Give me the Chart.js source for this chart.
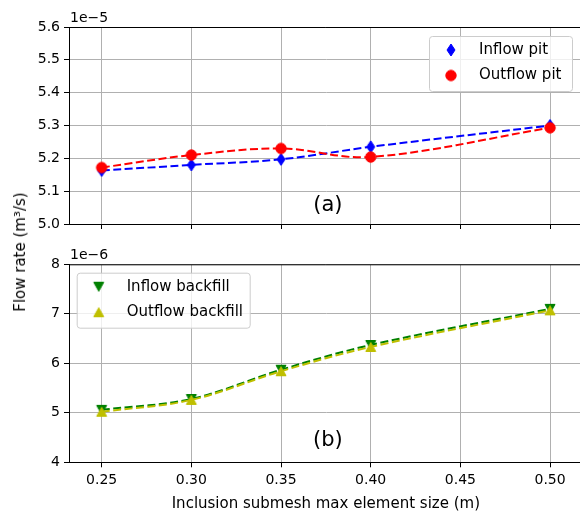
<!DOCTYPE html>
<html>
<head>
<meta charset="utf-8">
<script src="https://cdn.jsdelivr.net/npm/chart.js@4"></script>
<style>
  html, body { margin: 0; padding: 0; background: #fff; overflow: hidden; }
  #wrap { position: relative; width: 580px; height: 516px; overflow: hidden; }
  #wrap canvas { position: absolute; left: 0; }
  #ylabel {
    position: absolute; left: 20px; top: 252px;
    transform: translate(-50%, -50%) rotate(-90deg);
    font: 15px "DejaVu Sans"; white-space: nowrap; color: #000;
  }
</style>
</head>
<body>
<div id="wrap">
  <canvas id="pitChart" width="600" height="240" style="top:0"></canvas>
  <canvas id="backfillChart" width="600" height="276" style="top:240px"></canvas>
  <div id="ylabel">Flow rate (m³/s)</div>
</div>
<script>
// Mesh sizes tested and flow rates
const meshSizes = [0.25, 0.30, 0.35, 0.40, 0.50];
const xTicks = [0.25, 0.30, 0.35, 0.40, 0.45, 0.50];

// pit flow, in units of 1e-5 m³/s
const inflowPit = [5.163, 5.180, 5.197, 5.235, 5.300];
const outflowPit = [5.172, 5.210, 5.230, 5.204, 5.293];
const pitTicks = [5.0, 5.1, 5.2, 5.3, 5.4, 5.5, 5.6];

// backfill flow, in units of 1e-6 m³/s
const inflowBackfill = [5.06, 5.28, 5.87, 6.37, 7.10];
const outflowBackfill = [5.02, 5.26, 5.84, 6.33, 7.07];
const backfillTicks = [4, 5, 6, 7, 8];

Chart.defaults.font.family = '"DejaVu Sans", sans-serif';
Chart.defaults.color = '#000';

// markers drawn once on small canvases, used for points and legend
function markerImage(shape, color) {
    const c = document.createElement('canvas');
    c.width = 14; c.height = 14;
    const g = c.getContext('2d');
    const m = 7;
    g.fillStyle = color;
    g.strokeStyle = color;
    g.lineWidth = 1;
    g.beginPath();
    if (shape === 'circle') {
        g.arc(m, m, 5.2, 0, Math.PI * 2);
    } else if (shape === 'thinDiamond') {
        g.moveTo(m, m - 6); g.lineTo(m + 4, m); g.lineTo(m, m + 6); g.lineTo(m - 4, m);
    } else if (shape === 'triDown') {
        g.moveTo(m - 5, m - 4.5); g.lineTo(m + 5, m - 4.5); g.lineTo(m, m + 4.5);
    } else if (shape === 'triUp') {
        g.moveTo(m - 5, m + 4.5); g.lineTo(m + 5, m + 4.5); g.lineTo(m, m - 4.5);
    }
    g.closePath();
    g.fill();
    g.stroke();
    return c;
}

// lower order is drawn on top, so outflow sits over inflow
function series(label, values, color, shape, order) {
    return {
        label: label,
        data: meshSizes.map((x, i) => ({ x: x, y: values[i] })),
        showLine: true,
        borderColor: color,
        backgroundColor: color,
        borderWidth: 2,
        borderDash: [8, 3.5],
        tension: 0.35,
        pointStyle: markerImage(shape, color),
        pointRadius: 6,
        order: order
    };
}

// top spine, exponent text, panel letter and legend box
const panelDecor = {
    id: 'panelDecor',
    afterDatasetsDraw(chart, args, opts) {
        const ctx = chart.ctx;
        const a = chart.chartArea;
        ctx.save();

        ctx.strokeStyle = '#000';
        ctx.lineWidth = 1;
        ctx.beginPath();
        ctx.moveTo(a.left, a.top + 0.5);
        ctx.lineTo(a.right, a.top + 0.5);
        ctx.stroke();

        ctx.fillStyle = '#000';
        ctx.font = '14px "DejaVu Sans"';
        ctx.textAlign = 'left';
        ctx.textBaseline = 'alphabetic';
        ctx.fillText(opts.exponent, a.left + 1, a.top - 5);

        ctx.font = '21px "DejaVu Sans"';
        ctx.textAlign = 'center';
        ctx.textBaseline = 'middle';
        ctx.fillText(opts.letter, (a.left + a.right) / 2 + 2, a.bottom - opts.letterOffset);

        const lg = opts.legend;
        const bx = lg.side === 'right' ? a.right - lg.inset - lg.width : a.left + lg.inset;
        const by = a.top + lg.insetTop;
        ctx.beginPath();
        ctx.roundRect(bx + 0.5, by + 0.5, lg.width, lg.height, 3);
        ctx.fillStyle = 'rgba(255,255,255,0.8)';
        ctx.fill();
        ctx.strokeStyle = '#cccccc';
        ctx.stroke();

        ctx.font = '15px "DejaVu Sans"';
        ctx.textAlign = 'left';
        ctx.fillStyle = '#000';
        chart.data.datasets.forEach((ds, i) => {
            const rowY = by + 14 + i * 25.5;
            const img = ds.pointStyle;
            ctx.drawImage(img, bx + 22 - img.width / 2, rowY - img.height / 2);
            ctx.fillText(ds.label, bx + 50, rowY);
        });
        ctx.restore();
    }
};

function buildOptions(yTicks, yFormat, showXLabels, decor, xAxisHeight) {
    return {
        responsive: false,
        animation: false,
        events: [],
        layout: { padding: { top: decor.padTop, right: 17.3, left: 0, bottom: 0 } },
        plugins: {
            legend: { display: false },
            tooltip: { enabled: false },
            panelDecor: decor
        },
        scales: {
            x: {
                type: 'linear',
                min: 0.2318,
                max: 0.5182,
                afterBuildTicks: (s) => { s.ticks = xTicks.map(v => ({ value: v })); },
                afterFit: (s) => { s.height = xAxisHeight; },
                grid: { color: '#b0b0b0', lineWidth: 1, tickColor: '#000', tickLength: 5 },
                border: { color: '#000', width: 1 },
                ticks: {
                    display: showXLabels,
                    autoSkip: false,
                    maxRotation: 0,
                    padding: 5,
                    font: { size: 14 },
                    callback: (v) => v.toFixed(2)
                },
                title: {
                    display: showXLabels,
                    text: 'Inclusion submesh max element size (m)',
                    font: { size: 15 },
                    padding: { top: 4, bottom: 3 }
                }
            },
            y: {
                min: yTicks[0],
                max: yTicks[yTicks.length - 1],
                afterBuildTicks: (s) => { s.ticks = yTicks.map(v => ({ value: v })); },
                afterFit: (s) => { s.width = 69; },
                grid: { color: '#b0b0b0', lineWidth: 1, tickColor: '#000', tickLength: 5 },
                border: { color: '#000', width: 1 },
                ticks: {
                    padding: 4,
                    font: { size: 14 },
                    callback: yFormat
                }
            }
        }
    };
}

new Chart(document.getElementById('pitChart'), {
    type: 'scatter',
    data: {
        datasets: [
            series('Inflow pit', inflowPit, '#0000ff', 'thinDiamond', 2),
            series('Outflow pit', outflowPit, '#ff0000', 'circle', 1)
        ]
    },
    options: buildOptions(pitTicks, (v) => v.toFixed(1), false, {
        padTop: 27,
        exponent: '1e\u22125',
        letter: '(a)',
        letterOffset: 18,
        legend: { side: 'right', inset: 10.7, insetTop: 9, width: 143, height: 55 }
    }, 16),
    plugins: [panelDecor]
});

new Chart(document.getElementById('backfillChart'), {
    type: 'scatter',
    data: {
        datasets: [
            series('Inflow backfill', inflowBackfill, '#008000', 'triDown', 2),
            series('Outflow backfill', outflowBackfill, '#bfbf00', 'triUp', 1)
        ]
    },
    options: buildOptions(backfillTicks, (v) => String(v), true, {
        padTop: 24.3,
        exponent: '1e\u22126',
        letter: '(b)',
        letterOffset: 21.8,
        legend: { side: 'left', inset: 7.7, insetTop: 8.4, width: 173, height: 55 }
    }, 53.7),
    plugins: [panelDecor]
});
</script>
</body>
</html>
